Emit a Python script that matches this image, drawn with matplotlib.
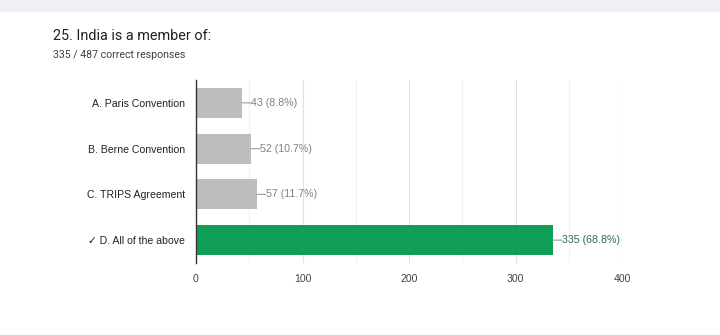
import matplotlib.pyplot as plt
from matplotlib.patches import Rectangle

plt.rcParams['font.family'] = ['Liberation Sans', 'DejaVu Sans']

categories = ["A. Paris Convention", "B. Berne Convention", "C. TRIPS Agreement", "\u2713 D. All of the above"]
counts = [43, 52, 57, 335]
percents = [8.8, 10.7, 11.7, 68.8]
correct = [False, False, False, True]
xticks = [0, 100, 200, 300, 400]

gray_bar = '#bdbdbd'
green_bar = '#0f9d58'
label_gray = '#808080'
label_green = '#2e6b4f'

fig = plt.figure(figsize=(7.2, 3.35), dpi=100)
fig.patch.set_facecolor('white')

# light band across the top
fig.patches.append(Rectangle((0, 1 - 12 / 335), 1, 12 / 335, transform=fig.transFigure,
                             facecolor='#eef0f4', edgecolor='none', zorder=0))

fig.text(53 / 720, 1 - 36 / 335, "25. India is a member of:", fontsize=10.4,
         color='#202124', va='center', ha='left', family=['Roboto', 'DejaVu Sans'])
fig.text(53 / 720, 1 - 55 / 335, "335 / 487 correct responses", fontsize=7.6,
         color='#3c4043', va='center', ha='left', family=['Roboto', 'DejaVu Sans'])

ax = fig.add_axes([196 / 720, 1 - 263 / 335, (622 - 196) / 720, (263 - 80) / 335])

ypos = list(range(len(categories)))
colors = [green_bar if c else gray_bar for c in correct]
ax.barh(ypos, counts, height=0.66, color=colors, zorder=2)

for y, n, p, c in zip(ypos, counts, percents, correct):
    col = label_green if c else label_gray
    ax.annotate(f"{n} ({p}%)", xy=(n, y), xytext=(6.5, 0), textcoords='offset points',
                va='center', ha='left', fontsize=7.7, color=col,
                bbox=dict(boxstyle='square,pad=0', fc='none', ec='none'),
                arrowprops=dict(arrowstyle='-', color='#9e9e9e', lw=0.8,
                                shrinkA=0, shrinkB=0))

ax.set_xlim(0, 400)
ax.set_ylim(3.5, -0.5)
ax.set_yticks(ypos)
ax.set_yticklabels(categories, fontsize=7.6, color='#222222')
ax.set_xticks(xticks)
ax.set_xticklabels([str(t) for t in xticks], fontsize=7.6, color='#444444')
ax.set_xticks([50, 150, 250, 350], minor=True)
ax.tick_params(axis='both', length=0, pad=8)
ax.tick_params(axis='x', which='minor', length=0)
ax.grid(axis='x', which='major', color='#e0e0e0', lw=0.8, zorder=0)
ax.grid(axis='x', which='minor', color='#f1f1f1', lw=0.8, zorder=0)
for side in ['top', 'right', 'bottom']:
    ax.spines[side].set_visible(False)
ax.spines['left'].set_color('#333333')
ax.spines['left'].set_linewidth(1.0)
ax.spines['left'].set_zorder(3)

fig.savefig('out.png', dpi=100)
